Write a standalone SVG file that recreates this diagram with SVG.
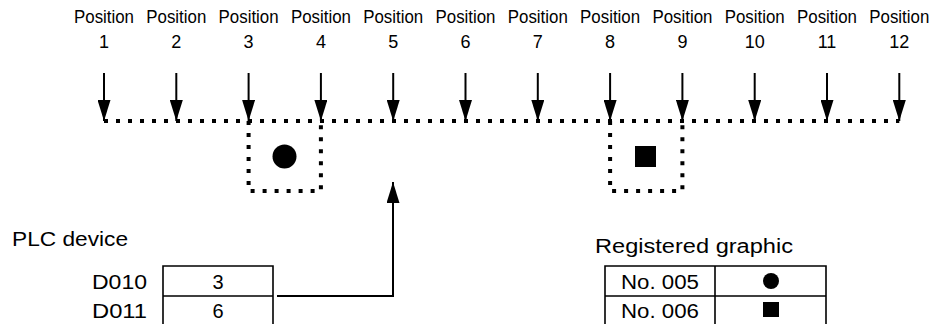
<svg xmlns="http://www.w3.org/2000/svg" width="939" height="324" viewBox="0 0 939 324">
<style>
  .pos { font-family: "Liberation Sans", Arial, sans-serif; font-size: 18px; fill: #000; text-anchor: middle; }
  .lbl { font-family: "Liberation Sans", Arial, sans-serif; font-size: 20px; fill: #000; }
  .mid { text-anchor: middle; }
  .end { text-anchor: end; }
  .arrow { stroke: #000; stroke-width: 2; fill: none; }
  .dots { stroke: #000; stroke-width: 4; fill: none; stroke-dasharray: 4 8; }
  .cell { stroke: #000; stroke-width: 1.6; fill: none; }
</style>
<defs>
  <marker id="ah" markerWidth="21" markerHeight="13" refX="21" refY="6.5" orient="auto" markerUnits="userSpaceOnUse" viewBox="0 0 21 13">
    <path d="M0,0 L21,6.5 L0,13 Z" fill="#000"/>
  </marker>
</defs>

<g id="positions">
  <g id="pos1"><text class="pos" x="104" y="23" textLength="60" lengthAdjust="spacingAndGlyphs">Position</text><text class="pos" x="104" y="48">1</text></g>
  <g id="pos2"><text class="pos" x="176.3" y="23" textLength="60" lengthAdjust="spacingAndGlyphs">Position</text><text class="pos" x="176.3" y="48">2</text></g>
  <g id="pos3"><text class="pos" x="248.6" y="23" textLength="60" lengthAdjust="spacingAndGlyphs">Position</text><text class="pos" x="248.6" y="48">3</text></g>
  <g id="pos4"><text class="pos" x="320.9" y="23" textLength="60" lengthAdjust="spacingAndGlyphs">Position</text><text class="pos" x="320.9" y="48">4</text></g>
  <g id="pos5"><text class="pos" x="393.2" y="23" textLength="60" lengthAdjust="spacingAndGlyphs">Position</text><text class="pos" x="393.2" y="48">5</text></g>
  <g id="pos6"><text class="pos" x="465.5" y="23" textLength="60" lengthAdjust="spacingAndGlyphs">Position</text><text class="pos" x="465.5" y="48">6</text></g>
  <g id="pos7"><text class="pos" x="537.8" y="23" textLength="60" lengthAdjust="spacingAndGlyphs">Position</text><text class="pos" x="537.8" y="48">7</text></g>
  <g id="pos8"><text class="pos" x="610.1" y="23" textLength="60" lengthAdjust="spacingAndGlyphs">Position</text><text class="pos" x="610.1" y="48">8</text></g>
  <g id="pos9"><text class="pos" x="682.4" y="23" textLength="60" lengthAdjust="spacingAndGlyphs">Position</text><text class="pos" x="682.4" y="48">9</text></g>
  <g id="pos10"><text class="pos" x="754.7" y="23" textLength="60" lengthAdjust="spacingAndGlyphs">Position</text><text class="pos" x="754.7" y="48">10</text></g>
  <g id="pos11"><text class="pos" x="827" y="23" textLength="60" lengthAdjust="spacingAndGlyphs">Position</text><text class="pos" x="827" y="48">11</text></g>
  <g id="pos12"><text class="pos" x="899.3" y="23" textLength="60" lengthAdjust="spacingAndGlyphs">Position</text><text class="pos" x="899.3" y="48">12</text></g>
</g>

<g id="track">
  <path class="dots" d="M104,121 H899.3"/>
</g>

<g id="slot-circle">
  <path class="dots" d="M248.6,121 V191 H320.9 V121"/>
  <circle cx="284.5" cy="156.5" r="12" fill="#000"/>
</g>

<g id="slot-square">
  <path class="dots" d="M610.1,121 V191 H682.4 V121"/>
  <rect x="635" y="146" width="21" height="21" fill="#000"/>
</g>

<g id="plc-device">
  <text class="lbl" x="12" y="246" textLength="116" lengthAdjust="spacingAndGlyphs">PLC device</text>
  <text class="lbl end" x="147" y="289" textLength="55" lengthAdjust="spacingAndGlyphs">D010</text>
  <text class="lbl end" x="147" y="318" textLength="55" lengthAdjust="spacingAndGlyphs">D011</text>
  <path class="cell" d="M163,326 V266 H273 V326 M163,296 H273"/>
  <text class="lbl mid" x="218" y="289">3</text>
  <text class="lbl mid" x="218" y="318">6</text>
</g>

<g id="registered-graphic">
  <text class="lbl" x="595" y="253" textLength="198" lengthAdjust="spacingAndGlyphs">Registered graphic</text>
  <path class="cell" d="M605,326 V266 H826 V326 M715,266 V326 M605,296 H826"/>
  <text class="lbl mid" x="660" y="289" textLength="78" lengthAdjust="spacingAndGlyphs">No. 005</text>
  <text class="lbl mid" x="660" y="318" textLength="78" lengthAdjust="spacingAndGlyphs">No. 006</text>
  <circle cx="771" cy="281" r="8" fill="#000"/>
  <rect x="763" y="302" width="16" height="15" fill="#000"/>
</g>

<g id="connectors">
  <path class="arrow" d="M104,73 V121" marker-end="url(#ah)"/>
  <path class="arrow" d="M176.3,73 V121" marker-end="url(#ah)"/>
  <path class="arrow" d="M248.6,73 V121" marker-end="url(#ah)"/>
  <path class="arrow" d="M320.9,73 V121" marker-end="url(#ah)"/>
  <path class="arrow" d="M393.2,73 V121" marker-end="url(#ah)"/>
  <path class="arrow" d="M465.5,73 V121" marker-end="url(#ah)"/>
  <path class="arrow" d="M537.8,73 V121" marker-end="url(#ah)"/>
  <path class="arrow" d="M610.1,73 V121" marker-end="url(#ah)"/>
  <path class="arrow" d="M682.4,73 V121" marker-end="url(#ah)"/>
  <path class="arrow" d="M754.7,73 V121" marker-end="url(#ah)"/>
  <path class="arrow" d="M827,73 V121" marker-end="url(#ah)"/>
  <path class="arrow" d="M899.3,73 V121" marker-end="url(#ah)"/>
  <path class="arrow" d="M277,296 H393 V182" marker-end="url(#ah)"/>
</g>
</svg>
